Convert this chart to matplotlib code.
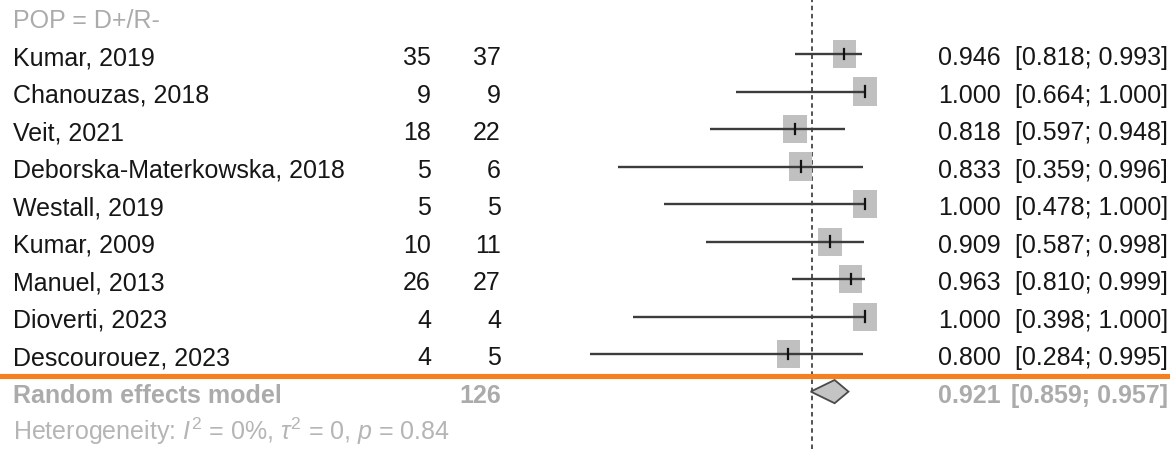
import matplotlib
matplotlib.use("Agg")
import matplotlib.pyplot as plt
import matplotlib.transforms as mtransforms
from matplotlib import font_manager
from matplotlib.patches import Rectangle, Polygon

# Study-level data (proportions with 95% CI)
studies = [
    "Kumar, 2019",
    "Chanouzas, 2018",
    "Veit, 2021",
    "Deborska-Materkowska, 2018",
    "Westall, 2019",
    "Kumar, 2009",
    "Manuel, 2013",
    "Dioverti, 2023",
    "Descourouez, 2023",
]
events = [35, 9, 18, 5, 5, 10, 26, 4, 4]
totals = [37, 9, 22, 6, 5, 11, 27, 4, 5]
estimates = [0.946, 1.000, 0.818, 0.833, 1.000, 0.909, 0.963, 1.000, 0.800]
ci_lower = [0.818, 0.664, 0.597, 0.359, 0.478, 0.587, 0.810, 0.398, 0.284]
ci_upper = [0.993, 1.000, 0.948, 0.996, 1.000, 0.998, 0.999, 1.000, 0.995]

# Pooled random effects result
pooled_est = 0.921
pooled_lower = 0.859
pooled_upper = 0.957
pooled_total = 126
ref_value = 0.862

subgroup_label = "POP = D+/R-"
pooled_label = "Random effects model"
het_label = r"Heterogeneity: $I^2$ = 0%, $\tau^2$ = 0, $p$ = 0.84"

W, H = 1170, 449

# Prefer a condensed sans face, otherwise plain Liberation Sans a bit smaller
installed = {f.name for f in font_manager.fontManager.ttflist}
if "Liberation Sans Narrow" in installed:
    FONT, FSIZE = "Liberation Sans Narrow", 21.3
else:
    FONT, FSIZE = "Liberation Sans", 18
plt.rcParams["font.family"] = [FONT, "DejaVu Sans"]
plt.rcParams["mathtext.fontset"] = "custom"
plt.rcParams["mathtext.rm"] = FONT
plt.rcParams["mathtext.it"] = FONT + ":italic"

BLACK = "#161616"
GREY_TXT = "#ababab"
LINE = "#3c3c3c"
BOX = "#c0c0c0"

fig = plt.figure(figsize=(W / 100, H / 100), dpi=100)
ax = fig.add_axes([0, 0, 1, 1])
ax.set_xlim(-1.249, 1.793)
ax.set_ylim(10.53, -1.44)
ax.axis("off")

rows = list(range(len(studies)))
pooled_row = len(studies)
het_row = pooled_row + 1

# reference line
ax.axvline(ref_value, color="#444444", lw=1.3, ls=(0, (2.5, 2)), zorder=1)

box_w, box_h = 0.06, 0.75
for i in rows:
    ax.add_patch(Rectangle((estimates[i] - box_w / 2, i - box_h / 2), box_w, box_h,
                           facecolor=BOX, edgecolor="none", zorder=2))
    ax.plot([ci_lower[i], ci_upper[i]], [i, i], color=LINE, lw=1.7, zorder=3,
            solid_capstyle="butt")
    ax.plot([estimates[i], estimates[i]], [i - 0.14, i + 0.14], color="#111111",
            lw=1.6, zorder=4)

# pooled diamond
diamond = Polygon([(pooled_lower, pooled_row), (pooled_est, pooled_row - 0.31),
                   (pooled_upper, pooled_row), (pooled_est, pooled_row + 0.31)],
                  closed=True, facecolor="#c4c4c4", edgecolor="#4a4a4a", lw=1.3,
                  zorder=3)
ax.add_patch(diamond)

# orange separator above the pooled row
ax.axhline(8.58, color="#f5801f", lw=3.7, zorder=5)

# text columns: x in pixels, y in rows
trans = mtransforms.blended_transform_factory(fig.transFigure, ax.transData)
BASE = 0.3


def put(px, row, s, ha="left", **kw):
    ax.text(px / W, row + BASE, s, transform=trans, ha=ha, va="baseline",
            fontsize=FSIZE, **kw)


put(13, -1, subgroup_label, color=GREY_TXT)
for i in rows:
    put(13, i, studies[i], color=BLACK)
    put(431, i, str(events[i]), ha="right", color=BLACK)
    put(501, i, str(totals[i]), ha="right", color=BLACK)
    put(1001, i, f"{estimates[i]:.3f}", ha="right", color=BLACK)
    put(1168, i, f"[{ci_lower[i]:.3f}; {ci_upper[i]:.3f}]", ha="right", color=BLACK)

put(13, pooled_row, pooled_label, color=GREY_TXT, fontweight="bold")
put(501, pooled_row, str(pooled_total), ha="right", color=GREY_TXT, fontweight="bold")
put(1001, pooled_row, f"{pooled_est:.3f}", ha="right", color=GREY_TXT, fontweight="bold")
put(1168, pooled_row, f"[{pooled_lower:.3f}; {pooled_upper:.3f}]", ha="right",
    color=GREY_TXT, fontweight="bold")
put(13, het_row, het_label, color="#b5b5b5")

fig.savefig("out.png", dpi=100, facecolor="white")
plt.close(fig)
